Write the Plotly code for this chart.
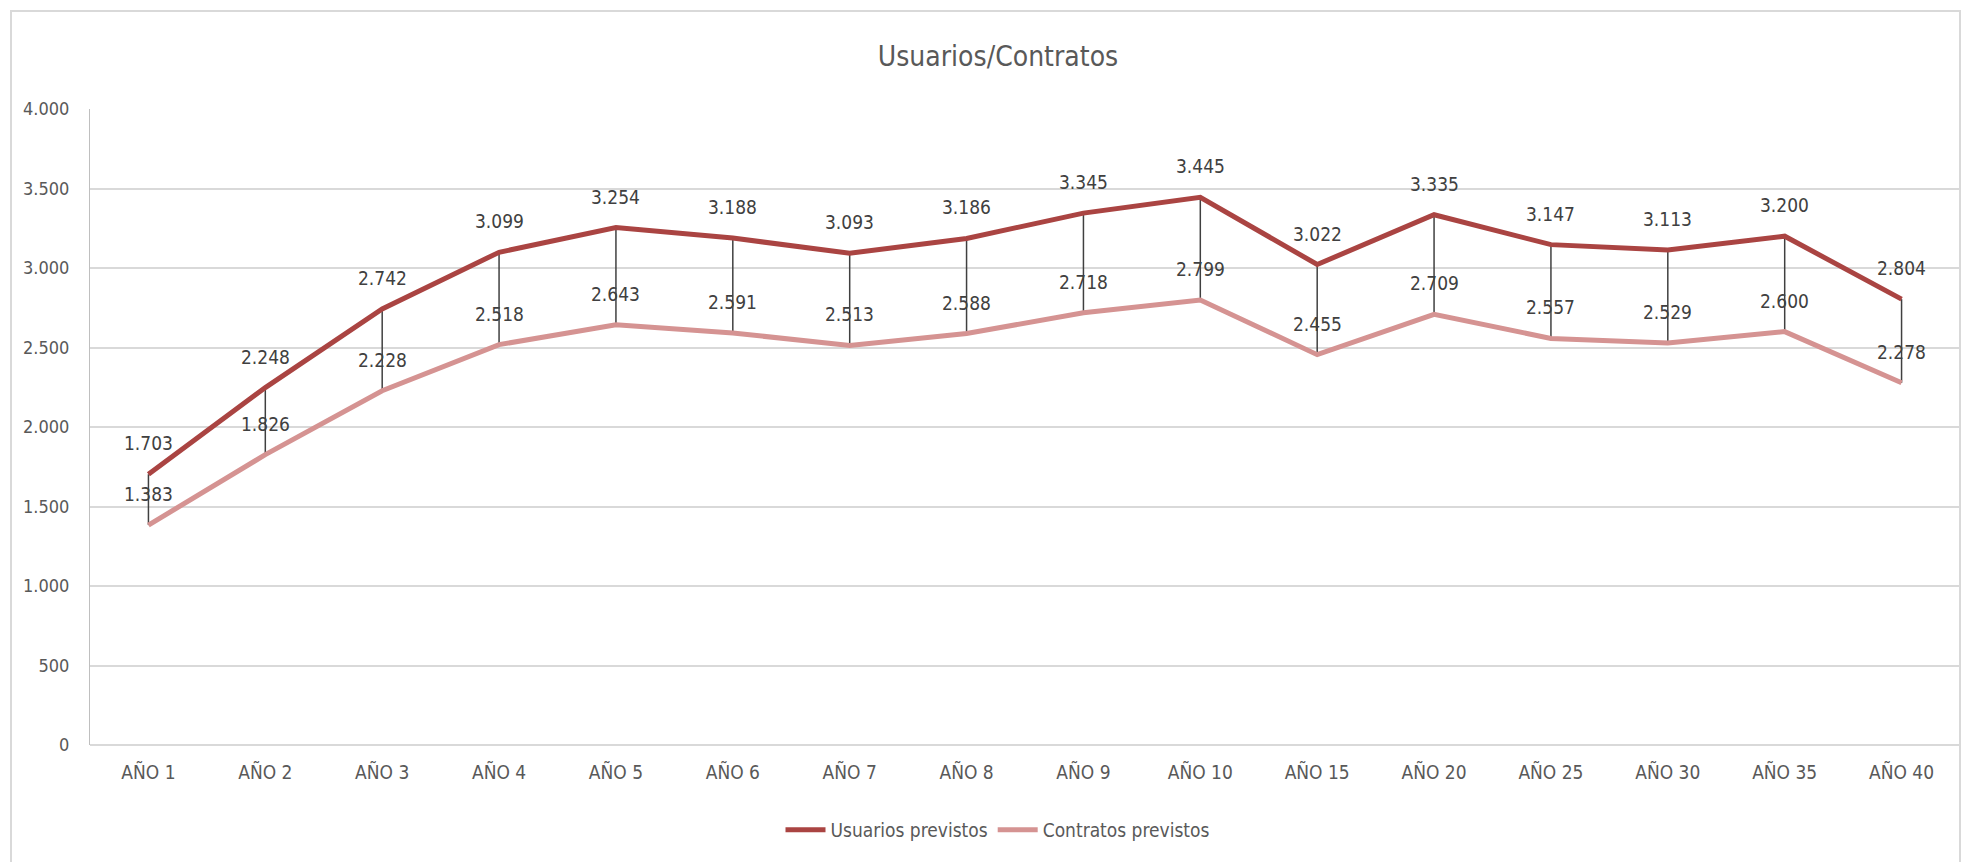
import plotly.graph_objects as go

categories = ["AÑO 1", "AÑO 2", "AÑO 3", "AÑO 4", "AÑO 5", "AÑO 6", "AÑO 7", "AÑO 8",
              "AÑO 9", "AÑO 10", "AÑO 15", "AÑO 20", "AÑO 25", "AÑO 30", "AÑO 35", "AÑO 40"]
usuarios = [1703, 2248, 2742, 3099, 3254, 3188, 3093, 3186, 3345, 3445, 3022, 3335, 3147, 3113, 3200, 2804]
contratos = [1383, 1826, 2228, 2518, 2643, 2591, 2513, 2588, 2718, 2799, 2455, 2709, 2557, 2529, 2600, 2278]
y_ticks = [0, 500, 1000, 1500, 2000, 2500, 3000, 3500, 4000]

FONT = "DejaVu Sans Condensed, sans-serif"
C_USU = "#AA4442"
C_CON = "#D59392"

W, H = 1968, 862
L, R, T, B = 90, 8, 109, 117
pw = W - L - R
ph = H - T - B
base = T + ph  # pixel y of plot bottom


def px_x(p):
    return (p - L) / pw


def px_y(p):
    return (base - p) / ph


fig = go.Figure()

# high-low lines
hx, hy = [], []
for c, u, k in zip(categories, usuarios, contratos):
    hx += [c, c, None]
    hy += [u, k, None]
fig.add_trace(go.Scatter(x=hx, y=hy, mode="lines", line=dict(color="#404040", width=1.5),
                         showlegend=False, hoverinfo="skip"))

fig.add_trace(go.Scatter(x=categories, y=usuarios, mode="lines", name="Usuarios previstos",
                         line=dict(color=C_USU, width=5)))
fig.add_trace(go.Scatter(x=categories, y=contratos, mode="lines", name="Contratos previstos",
                         line=dict(color=C_CON, width=5)))

for series in (usuarios, contratos):
    for c, v in zip(categories, series):
        fig.add_annotation(x=c, y=v, text=f"{v:,}".replace(",", "."), showarrow=False,
                           yshift=31, font=dict(family=FONT, size=19, color="#404040"))

# outer chart border
fig.add_shape(type="rect", xref="paper", yref="paper",
              x0=px_x(11), x1=px_x(1960), y0=px_y(900), y1=px_y(11),
              line=dict(color="#D9D9D9", width=2), layer="below")

fig.update_layout(
    width=W, height=H,
    margin=dict(l=L, r=R, t=T, b=B),
    paper_bgcolor="white", plot_bgcolor="white",
    separators=",.",
    font=dict(family=FONT, color="#595959", size=18),
    title=dict(text="Usuarios/Contratos", x=998 / W, xanchor="center",
               y=1 - 56 / H, yanchor="middle",
               font=dict(family=FONT, size=28, color="#595959")),
    xaxis=dict(type="category", range=[-0.5, len(categories) - 0.5], showgrid=False,
               showline=False, ticks="",
               tickfont=dict(size=19, color="#595959"), ticklabelstandoff=14),
    yaxis=dict(range=[0, 4000], tickvals=y_ticks, tickformat=",d", showgrid=True,
               gridcolor="#D9D9D9", gridwidth=2, zeroline=True, zerolinecolor="#D9D9D9",
               zerolinewidth=2, showline=True, linecolor="#BFBFBF", linewidth=1,
               ticks="", tickfont=dict(size=18, color="#595959"), ticklabelstandoff=16),
    legend=dict(orientation="h", x=px_x(998), xanchor="center",
                y=px_y(830), yanchor="middle",
                font=dict(size=19, color="#595959"), itemwidth=40),
    showlegend=True,
)

fig.write_html("out.html")
